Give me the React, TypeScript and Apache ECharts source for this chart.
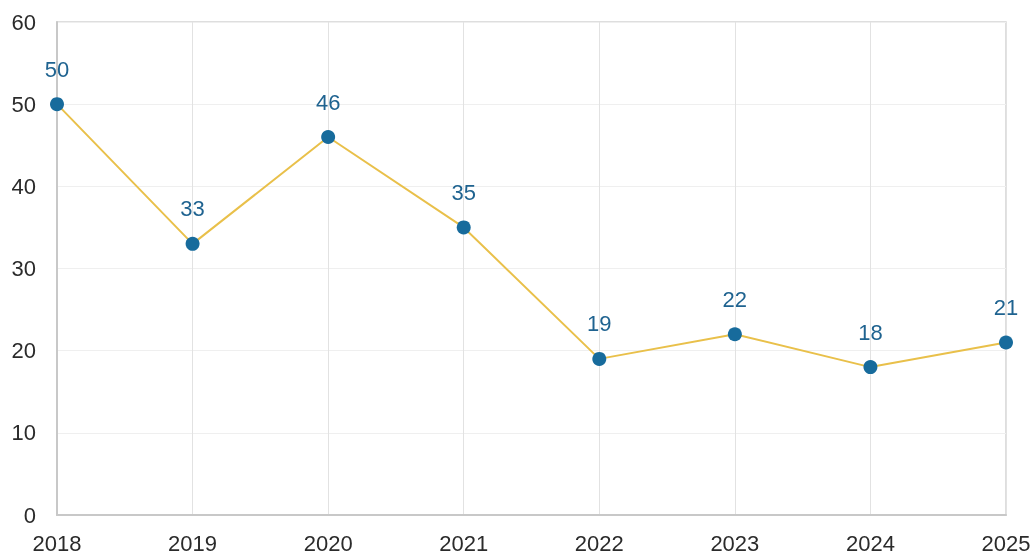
import React, { useEffect, useRef } from "react";
import * as echarts from "echarts";

const years = ["2018", "2019", "2020", "2021", "2022", "2023", "2024", "2025"];
const values = [50, 33, 46, 35, 19, 22, 18, 21];

export default function App() {
  const ref = useRef<HTMLDivElement>(null);
  useEffect(() => {
    const chart = echarts.init(ref.current!, null, { renderer: "svg" });
    chart.setOption({
      animation: false,
      grid: {
        left: 57,
        right: 30,
        top: 22,
        bottom: 43,
        show: true,
        borderColor: "#d4d4d4",
        borderWidth: 1.5,
      },
      xAxis: {
        type: "category",
        data: years,
        boundaryGap: false,
        axisLine: { show: true, lineStyle: { color: "#c8c8c8", width: 2 } },
        axisTick: { show: false },
        axisLabel: {
          color: "#2b2b2b",
          fontSize: 22,
          fontFamily: "Liberation Sans, Arial, sans-serif",
          margin: 17,
        },
        splitLine: { show: true, lineStyle: { color: "#e2e2e2", width: 1 } },
      },
      yAxis: {
        type: "value",
        min: 0,
        max: 60,
        interval: 10,
        axisLine: { show: true, lineStyle: { color: "#c8c8c8", width: 2 } },
        axisTick: { show: false },
        axisLabel: {
          color: "#2b2b2b",
          fontSize: 22,
          fontFamily: "Liberation Sans, Arial, sans-serif",
          margin: 21,
        },
        splitLine: { show: true, lineStyle: { color: "#efefef", width: 1 } },
      },
      series: [
        {
          type: "line",
          data: values,
          symbol: "circle",
          symbolSize: 14,
          itemStyle: { color: "#176b9c" },
          lineStyle: { color: "#e9c04a", width: 2 },
          label: {
            show: true,
            position: "top",
            distance: 17,
            color: "#1f6390",
            fontSize: 22,
            fontFamily: "Liberation Sans, Arial, sans-serif",
          },
        },
      ],
    });
    return () => chart.dispose();
  }, []);
  return <div ref={ref} style={{ width: 1036, height: 558, position: "fixed", left: 0, top: 0 }} />;
}
